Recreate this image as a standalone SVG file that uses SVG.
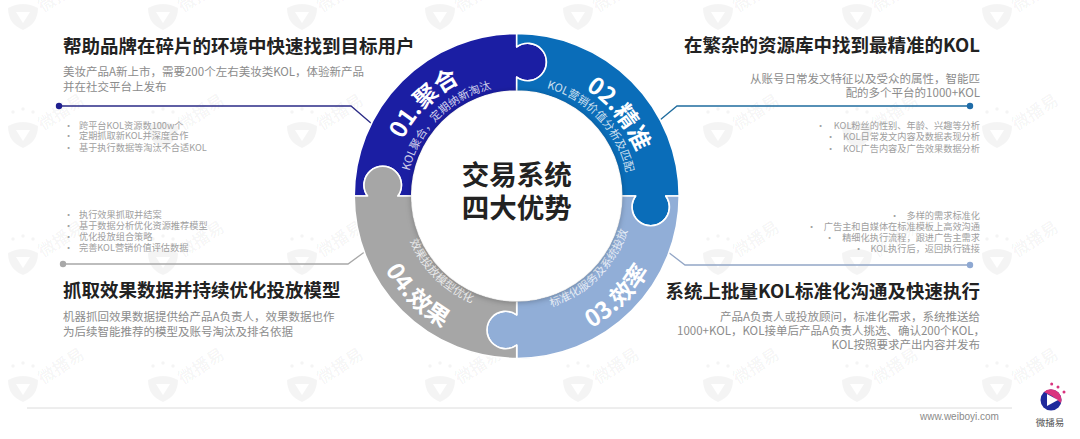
<svg xmlns="http://www.w3.org/2000/svg" width="1080" height="439" viewBox="0 0 1080 439">
<style>
text{font-family:"Noto Sans CJK SC","Noto Sans",sans-serif}
.t{font-size:18.5px;font-weight:700;fill:#222}
.s{font-size:11.5px;fill:#8c8c8c}
.b{font-size:9.2px;fill:#a0a0a0}
.e{text-anchor:end}
.big{font-size:23.5px;font-weight:700;fill:#fff}
.sm{font-size:11.2px;fill:#fff;fill-opacity:.8}
.ctr{font-size:27.5px;font-weight:700;fill:#222;text-anchor:middle}
.q{stroke:#fff;stroke-width:1.6;stroke-linejoin:round}
.ln{fill:none;stroke-width:1.3}
.wt{font-size:17px;font-weight:700;fill:#000;fill-opacity:.04}
.wm{fill:#000;fill-opacity:.045}
</style>
<defs>
<path id="quad" d="M-162.500 0A162.500 162.500 0 0 1 0-162.500L0-149.100A18.700 18.700 0 1 1 0-118.900L0-105A105 105 0 0 0-105 0L-118.900 0A18.700 18.700 0 1 0-149.100 0Z"/>
<filter id="sh" x="-20%" y="-20%" width="140%" height="140%"><feDropShadow dx="0" dy="1" stdDeviation="3" flood-color="#000" flood-opacity=".3"/></filter>
<g id="wmark">
<path class="wm" d="M-15-7Q0-15 15-7Q15 9 0 15Q-15 9-15-7ZM-7-3L0 8L7-3Z" fill-rule="evenodd"/>
<circle class="wm" cx="-10" cy="-21" r="1.800"/><circle class="wm" cx="0" cy="-24" r="1.800"/><circle class="wm" cx="10" cy="-21" r="1.800"/>
<text class="wt" transform="translate(20 -2) rotate(-33)">微播易</text>
</g>
<path id="p1b" d="M389.700 196A127 127 0 0 1 516.700 69"/>
<path id="p1s" d="M406.700 196A110 110 0 0 1 516.700 86"/>
<path id="p2b" d="M516.700 69A127 127 0 0 1 643.700 196"/>
<path id="p2s" d="M516.700 84A112 112 0 0 1 628.700 196"/>
<path id="p3b" d="M516.700 348A152 152 0 0 0 668.700 196"/>
<path id="p3s" d="M516.700 312A116 116 0 0 0 632.700 196"/>
<path id="p4b" d="M365.700 196A151 151 0 0 0 516.700 347"/>
<path id="p4s" d="M400.700 196A116 116 0 0 0 516.700 312"/>
</defs>
<rect width="1080" height="439" fill="#fff"/>
<g id="watermarks">
<use href="#wmark" x="23" y="15"/><use href="#wmark" x="163" y="15"/><use href="#wmark" x="302" y="15"/><use href="#wmark" x="440" y="15"/><use href="#wmark" x="578" y="15"/><use href="#wmark" x="718" y="15"/><use href="#wmark" x="857" y="15"/><use href="#wmark" x="997" y="15"/>
<use href="#wmark" x="23" y="133"/><use href="#wmark" x="163" y="133"/><use href="#wmark" x="302" y="133"/><use href="#wmark" x="718" y="133"/><use href="#wmark" x="857" y="133"/><use href="#wmark" x="997" y="133"/>
<use href="#wmark" x="23" y="260"/><use href="#wmark" x="163" y="260"/><use href="#wmark" x="302" y="260"/><use href="#wmark" x="718" y="260"/><use href="#wmark" x="857" y="260"/><use href="#wmark" x="997" y="260"/>
<use href="#wmark" x="23" y="387"/><use href="#wmark" x="163" y="387"/><use href="#wmark" x="302" y="387"/><use href="#wmark" x="440" y="387"/><use href="#wmark" x="578" y="387"/><use href="#wmark" x="718" y="387"/><use href="#wmark" x="857" y="387"/><use href="#wmark" x="997" y="387"/>
</g>
<g id="connectors">
<path class="ln" stroke="#2b2b86" d="M59 106H351L372 124"/>
<circle cx="59" cy="106" r="3.200" fill="#1f1f8f"/>
<path class="ln" stroke="#1f6c9e" d="M970 106H677L660 120"/>
<circle cx="970" cy="106" r="3.200" fill="#1f6ca8"/>
<path class="ln" stroke="#a8a8a8" d="M63 264H348L370 248"/>
<circle cx="63" cy="264" r="3.200" fill="#a8a8a8"/>
<path class="ln" stroke="#93a6c6" d="M970 265H685L668 252"/>
<circle cx="970" cy="265" r="3.200" fill="#8ea8d2"/>
</g>
<g id="ring-q1"><use href="#quad" class="q" fill="#1b1ea3" transform="translate(516.7 196)"/>
<text class="big"><textPath href="#p1b" startOffset="50%" text-anchor="middle">01.聚合</textPath></text>
<text class="sm"><textPath href="#p1s" startOffset="50%" text-anchor="middle">KOL聚合，定期纳新淘汰</textPath></text></g>
<g id="ring-q2"><use href="#quad" class="q" fill="#0a6db9" transform="translate(516.7 196) rotate(90)"/>
<text class="big"><textPath href="#p2b" startOffset="57%" text-anchor="middle">02.精准</textPath></text>
<text class="sm"><textPath href="#p2s" startOffset="52%" text-anchor="middle">KOL营销价值分析及匹配</textPath></text></g>
<g id="ring-q3"><use href="#quad" class="q" fill="#91aed7" transform="translate(516.7 196) rotate(180)"/>
<text class="big"><textPath href="#p3b" startOffset="50%" text-anchor="middle">03.效率</textPath></text>
<text class="sm"><textPath href="#p3s" startOffset="50%" text-anchor="middle">标准化服务及系统投放</textPath></text></g>
<g id="ring-q4"><use href="#quad" class="q" fill="#a6a6a6" transform="translate(516.7 196) rotate(270)"/>
<text class="big"><textPath href="#p4b" startOffset="50%" text-anchor="middle">04.效果</textPath></text>
<text class="sm"><textPath href="#p4s" startOffset="50%" text-anchor="middle">效果投放模型优化</textPath></text></g>
<g id="center"><circle cx="516.7" cy="196" r="105" fill="#fff" filter="url(#sh)"/>
<text class="ctr" x="516.7" y="185">交易系统</text>
<text class="ctr" x="516.7" y="218">四大优势</text></g>
<g id="block-tl">
<text class="t" x="63" y="53">帮助品牌在碎片的环境中快速找到目标用户</text>
<text class="s" x="63" y="76">美妆产品A新上市，需要200个左右美妆类KOL，体验新产品</text>
<text class="s" x="63" y="90.500">并在社交平台上发布</text>
<text class="b" x="64" y="129">•</text><text class="b" x="79" y="129">跨平台KOL资源数100w个</text>
<text class="b" x="64" y="139">•</text><text class="b" x="79" y="139">定期抓取新KOL并深度合作</text>
<text class="b" x="64" y="151">•</text><text class="b" x="79" y="151">基于执行数据等淘汰不合适KOL</text>
</g>
<g id="block-tr">
<text class="t e" x="980" y="52">在繁杂的资源库中找到最精准的KOL</text>
<text class="s e" x="980" y="83">从账号日常发文特征以及受众的属性，智能匹</text>
<text class="s e" x="980" y="97">配的多个平台的1000+KOL</text>
<text class="b" x="816" y="129">•</text><text class="b e" x="980" y="129">KOL粉丝的性别、年龄、兴趣等分析</text>
<text class="b" x="826" y="140">•</text><text class="b e" x="980" y="140">KOL日常发文内容及数据表现分析</text>
<text class="b" x="826" y="152">•</text><text class="b e" x="980" y="152">KOL广告内容及广告效果数据分析</text>
</g>
<g id="block-bl">
<text class="b" x="64" y="218">•</text><text class="b" x="79" y="218">执行效果抓取并结案</text>
<text class="b" x="64" y="229">•</text><text class="b" x="79" y="229">基于数据分析优化资源推荐模型</text>
<text class="b" x="64" y="240">•</text><text class="b" x="79" y="240">优化投放组合策略</text>
<text class="b" x="64" y="251">•</text><text class="b" x="79" y="251">完善KOL营销价值评估数据</text>
<text class="t" x="63" y="297">抓取效果数据并持续优化投放模型</text>
<text class="s" x="63" y="321">机器抓回效果数据提供给产品A负责人，效果数据也作</text>
<text class="s" x="63" y="336">为后续智能推荐的模型及账号淘汰及排名依据</text>
</g>
<g id="block-br">
<text class="b" x="890" y="219">•</text><text class="b e" x="980" y="219">多样的需求标准化</text>
<text class="b" x="807" y="230">•</text><text class="b e" x="980" y="230">广告主和自媒体在标准模板上高效沟通</text>
<text class="b" x="825" y="241">•</text><text class="b e" x="980" y="241">精细化执行流程，跟进广告主需求</text>
<text class="b" x="854" y="252">•</text><text class="b e" x="980" y="252">KOL执行后，返回执行链接</text>
<text class="t e" x="980" y="298">系统上批量KOL标准化沟通及快速执行</text>
<text class="s e" x="980" y="321">产品A负责人或投放顾问，标准化需求，系统推送给</text>
<text class="s e" x="985" y="335">1000+KOL，KOL接单后产品A负责人挑选、确认200个KOL，</text>
<text class="s e" x="980" y="349">KOL按照要求产出内容并发布</text>
</g>
<g id="footer">
<line x1="27" y1="408" x2="1012" y2="408" stroke="#dcdcdc" stroke-width="1"/>
<text x="920" y="420" font-size="10" fill="#8a8a8a" style="font-family:'Liberation Sans',sans-serif">www.weiboyi.com</text>
</g>
<g id="logo">
<circle cx="1051.700" cy="384" r="1.500" fill="#d9347f"/><circle cx="1058" cy="387" r="1.500" fill="#d9347f"/><circle cx="1064" cy="392" r="1.500" fill="#d9347f"/>
<circle cx="1051" cy="400" r="10.500" fill="#1f2a9c"/>
<path d="M1044 392A10.500 10.500 0 0 1 1061 403L1052 396Z" fill="#d9347f"/>
<path d="M1047 394L1058 400L1047 406Z" fill="#fff"/>
<text x="1050" y="425.500" font-size="9.500" fill="#555" text-anchor="middle">微播易</text>
</g>
</svg>
